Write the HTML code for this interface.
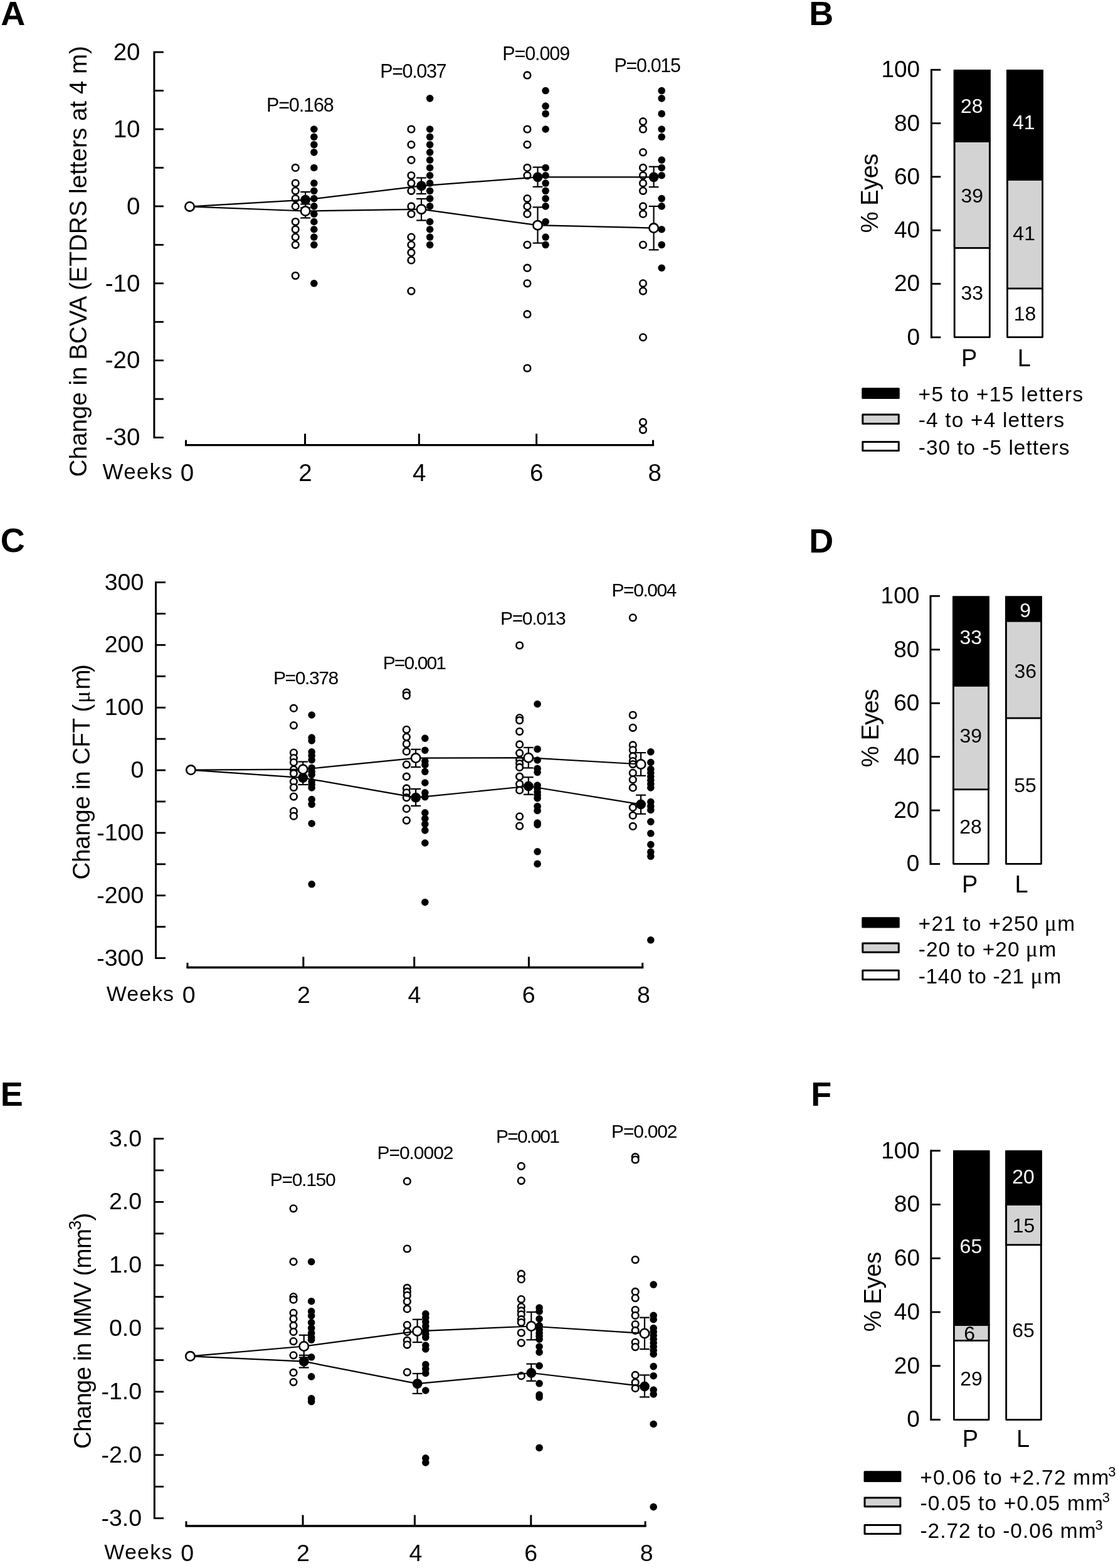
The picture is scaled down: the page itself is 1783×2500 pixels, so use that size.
<!DOCTYPE html>
<html lang="en"><head><meta charset="utf-8"><title>Figure</title>
<style>
html,body{margin:0;padding:0;background:#fff;}
svg{display:block;}
text{fill:#000;white-space:pre;}
.r{font-family:"Liberation Sans",sans-serif;}
.b{font-family:"Liberation Sans",sans-serif;font-weight:bold;}
.s{font-family:"Liberation Serif","DejaVu Serif",serif;}
</style></head><body>
<svg width="1783" height="2500" viewBox="0 0 1783 2500">
<rect width="1783" height="2500" fill="#fff"/>
<text class="b" x="1.35" y="40.20" style="font-size:54px;">A</text>
<text class="b" x="1290.26" y="40.30" style="font-size:54px;">B</text>
<text class="b" x="0.84" y="880.00" style="font-size:54px;">C</text>
<text class="b" x="1290.26" y="881.10" style="font-size:54px;">D</text>
<text class="b" x="0.75" y="1763.30" style="font-size:54px;">E</text>
<text class="b" x="1293.36" y="1763.40" style="font-size:54px;">F</text>
<circle cx="471.20" cy="267.45" r="5.3" fill="#fff" stroke="#000" stroke-width="2.6"/>
<circle cx="471.20" cy="292.03" r="5.3" fill="#fff" stroke="#000" stroke-width="2.6"/>
<circle cx="471.20" cy="304.32" r="5.3" fill="#fff" stroke="#000" stroke-width="2.6"/>
<circle cx="471.20" cy="316.61" r="5.3" fill="#fff" stroke="#000" stroke-width="2.6"/>
<circle cx="471.20" cy="328.90" r="5.3" fill="#fff" stroke="#000" stroke-width="2.6"/>
<circle cx="471.20" cy="353.48" r="5.3" fill="#fff" stroke="#000" stroke-width="2.6"/>
<circle cx="471.20" cy="365.77" r="5.3" fill="#fff" stroke="#000" stroke-width="2.6"/>
<circle cx="471.20" cy="378.06" r="5.3" fill="#fff" stroke="#000" stroke-width="2.6"/>
<circle cx="471.20" cy="390.35" r="5.3" fill="#fff" stroke="#000" stroke-width="2.6"/>
<circle cx="471.20" cy="439.51" r="5.3" fill="#fff" stroke="#000" stroke-width="2.6"/>
<circle cx="655.90" cy="206.00" r="5.3" fill="#fff" stroke="#000" stroke-width="2.6"/>
<circle cx="655.90" cy="230.58" r="5.3" fill="#fff" stroke="#000" stroke-width="2.6"/>
<circle cx="655.90" cy="255.16" r="5.3" fill="#fff" stroke="#000" stroke-width="2.6"/>
<circle cx="655.90" cy="279.74" r="5.3" fill="#fff" stroke="#000" stroke-width="2.6"/>
<circle cx="655.90" cy="292.03" r="5.3" fill="#fff" stroke="#000" stroke-width="2.6"/>
<circle cx="655.90" cy="304.32" r="5.3" fill="#fff" stroke="#000" stroke-width="2.6"/>
<circle cx="655.90" cy="328.90" r="5.3" fill="#fff" stroke="#000" stroke-width="2.6"/>
<circle cx="655.90" cy="341.19" r="5.3" fill="#fff" stroke="#000" stroke-width="2.6"/>
<circle cx="655.90" cy="378.06" r="5.3" fill="#fff" stroke="#000" stroke-width="2.6"/>
<circle cx="655.90" cy="390.35" r="5.3" fill="#fff" stroke="#000" stroke-width="2.6"/>
<circle cx="655.90" cy="402.64" r="5.3" fill="#fff" stroke="#000" stroke-width="2.6"/>
<circle cx="655.90" cy="414.93" r="5.3" fill="#fff" stroke="#000" stroke-width="2.6"/>
<circle cx="655.90" cy="464.09" r="5.3" fill="#fff" stroke="#000" stroke-width="2.6"/>
<circle cx="840.90" cy="119.97" r="5.3" fill="#fff" stroke="#000" stroke-width="2.6"/>
<circle cx="840.90" cy="206.00" r="5.3" fill="#fff" stroke="#000" stroke-width="2.6"/>
<circle cx="840.90" cy="230.58" r="5.3" fill="#fff" stroke="#000" stroke-width="2.6"/>
<circle cx="840.90" cy="267.45" r="5.3" fill="#fff" stroke="#000" stroke-width="2.6"/>
<circle cx="840.90" cy="279.74" r="5.3" fill="#fff" stroke="#000" stroke-width="2.6"/>
<circle cx="840.90" cy="316.61" r="5.3" fill="#fff" stroke="#000" stroke-width="2.6"/>
<circle cx="840.90" cy="328.90" r="5.3" fill="#fff" stroke="#000" stroke-width="2.6"/>
<circle cx="840.90" cy="341.19" r="5.3" fill="#fff" stroke="#000" stroke-width="2.6"/>
<circle cx="840.90" cy="390.35" r="5.3" fill="#fff" stroke="#000" stroke-width="2.6"/>
<circle cx="840.90" cy="427.22" r="5.3" fill="#fff" stroke="#000" stroke-width="2.6"/>
<circle cx="840.90" cy="451.80" r="5.3" fill="#fff" stroke="#000" stroke-width="2.6"/>
<circle cx="840.90" cy="500.96" r="5.3" fill="#fff" stroke="#000" stroke-width="2.6"/>
<circle cx="840.90" cy="586.99" r="5.3" fill="#fff" stroke="#000" stroke-width="2.6"/>
<circle cx="1025.50" cy="193.71" r="5.3" fill="#fff" stroke="#000" stroke-width="2.6"/>
<circle cx="1025.50" cy="206.00" r="5.3" fill="#fff" stroke="#000" stroke-width="2.6"/>
<circle cx="1025.50" cy="242.87" r="5.3" fill="#fff" stroke="#000" stroke-width="2.6"/>
<circle cx="1025.50" cy="267.45" r="5.3" fill="#fff" stroke="#000" stroke-width="2.6"/>
<circle cx="1025.50" cy="279.74" r="5.3" fill="#fff" stroke="#000" stroke-width="2.6"/>
<circle cx="1025.50" cy="292.03" r="5.3" fill="#fff" stroke="#000" stroke-width="2.6"/>
<circle cx="1025.50" cy="304.32" r="5.3" fill="#fff" stroke="#000" stroke-width="2.6"/>
<circle cx="1025.50" cy="328.90" r="5.3" fill="#fff" stroke="#000" stroke-width="2.6"/>
<circle cx="1025.50" cy="341.19" r="5.3" fill="#fff" stroke="#000" stroke-width="2.6"/>
<circle cx="1025.50" cy="390.35" r="5.3" fill="#fff" stroke="#000" stroke-width="2.6"/>
<circle cx="1025.50" cy="451.80" r="5.3" fill="#fff" stroke="#000" stroke-width="2.6"/>
<circle cx="1025.50" cy="464.09" r="5.3" fill="#fff" stroke="#000" stroke-width="2.6"/>
<circle cx="1025.50" cy="537.83" r="5.3" fill="#fff" stroke="#000" stroke-width="2.6"/>
<circle cx="1025.50" cy="673.02" r="5.3" fill="#fff" stroke="#000" stroke-width="2.6"/>
<circle cx="1025.50" cy="685.31" r="5.3" fill="#fff" stroke="#000" stroke-width="2.6"/>
<circle cx="500.80" cy="206.00" r="5.8" fill="#000"/>
<circle cx="500.80" cy="218.29" r="5.8" fill="#000"/>
<circle cx="500.80" cy="230.58" r="5.8" fill="#000"/>
<circle cx="500.80" cy="242.87" r="5.8" fill="#000"/>
<circle cx="500.80" cy="267.45" r="5.8" fill="#000"/>
<circle cx="500.80" cy="292.03" r="5.8" fill="#000"/>
<circle cx="500.80" cy="304.32" r="5.8" fill="#000"/>
<circle cx="500.80" cy="316.61" r="5.8" fill="#000"/>
<circle cx="500.80" cy="328.90" r="5.8" fill="#000"/>
<circle cx="500.80" cy="341.19" r="5.8" fill="#000"/>
<circle cx="500.80" cy="353.48" r="5.8" fill="#000"/>
<circle cx="500.80" cy="365.77" r="5.8" fill="#000"/>
<circle cx="500.80" cy="378.06" r="5.8" fill="#000"/>
<circle cx="500.80" cy="390.35" r="5.8" fill="#000"/>
<circle cx="500.80" cy="451.80" r="5.8" fill="#000"/>
<circle cx="685.60" cy="156.84" r="5.8" fill="#000"/>
<circle cx="685.60" cy="206.00" r="5.8" fill="#000"/>
<circle cx="685.60" cy="218.29" r="5.8" fill="#000"/>
<circle cx="685.60" cy="230.58" r="5.8" fill="#000"/>
<circle cx="685.60" cy="242.87" r="5.8" fill="#000"/>
<circle cx="685.60" cy="255.16" r="5.8" fill="#000"/>
<circle cx="685.60" cy="267.45" r="5.8" fill="#000"/>
<circle cx="685.60" cy="279.74" r="5.8" fill="#000"/>
<circle cx="685.60" cy="292.03" r="5.8" fill="#000"/>
<circle cx="685.60" cy="304.32" r="5.8" fill="#000"/>
<circle cx="685.60" cy="316.61" r="5.8" fill="#000"/>
<circle cx="685.60" cy="328.90" r="5.8" fill="#000"/>
<circle cx="685.60" cy="353.48" r="5.8" fill="#000"/>
<circle cx="685.60" cy="365.77" r="5.8" fill="#000"/>
<circle cx="685.60" cy="378.06" r="5.8" fill="#000"/>
<circle cx="685.60" cy="390.35" r="5.8" fill="#000"/>
<circle cx="870.10" cy="144.55" r="5.8" fill="#000"/>
<circle cx="870.10" cy="169.13" r="5.8" fill="#000"/>
<circle cx="870.10" cy="181.42" r="5.8" fill="#000"/>
<circle cx="870.10" cy="206.00" r="5.8" fill="#000"/>
<circle cx="870.10" cy="267.45" r="5.8" fill="#000"/>
<circle cx="870.10" cy="279.74" r="5.8" fill="#000"/>
<circle cx="870.10" cy="292.03" r="5.8" fill="#000"/>
<circle cx="870.10" cy="304.32" r="5.8" fill="#000"/>
<circle cx="870.10" cy="316.61" r="5.8" fill="#000"/>
<circle cx="870.10" cy="328.90" r="5.8" fill="#000"/>
<circle cx="870.10" cy="353.48" r="5.8" fill="#000"/>
<circle cx="870.10" cy="378.06" r="5.8" fill="#000"/>
<circle cx="870.10" cy="390.35" r="5.8" fill="#000"/>
<circle cx="1055.20" cy="144.55" r="5.8" fill="#000"/>
<circle cx="1055.20" cy="156.84" r="5.8" fill="#000"/>
<circle cx="1055.20" cy="181.42" r="5.8" fill="#000"/>
<circle cx="1055.20" cy="206.00" r="5.8" fill="#000"/>
<circle cx="1055.20" cy="218.29" r="5.8" fill="#000"/>
<circle cx="1055.20" cy="255.16" r="5.8" fill="#000"/>
<circle cx="1055.20" cy="267.45" r="5.8" fill="#000"/>
<circle cx="1055.20" cy="279.74" r="5.8" fill="#000"/>
<circle cx="1055.20" cy="316.61" r="5.8" fill="#000"/>
<circle cx="1055.20" cy="328.90" r="5.8" fill="#000"/>
<circle cx="1055.20" cy="365.77" r="5.8" fill="#000"/>
<circle cx="1055.20" cy="390.35" r="5.8" fill="#000"/>
<circle cx="1055.20" cy="427.22" r="5.8" fill="#000"/>
<polyline fill="none" stroke="#000" stroke-width="2.2" points="302.50,329.40 487.10,336.52 672.00,333.69 857.50,359.13 1042.60,363.56"/>
<polyline fill="none" stroke="#000" stroke-width="2.2" points="302.50,329.40 487.10,318.70 672.00,296.45 857.50,282.32 1042.60,282.32"/>
<line x1="487.10" y1="306.04" x2="487.10" y2="331.36" stroke="#000" stroke-width="2.2"/>
<line x1="479.20" y1="306.04" x2="495.00" y2="306.04" stroke="#000" stroke-width="2.2"/>
<line x1="479.20" y1="331.36" x2="495.00" y2="331.36" stroke="#000" stroke-width="2.2"/>
<line x1="672.00" y1="283.55" x2="672.00" y2="308.99" stroke="#000" stroke-width="2.2"/>
<line x1="664.10" y1="283.55" x2="679.90" y2="283.55" stroke="#000" stroke-width="2.2"/>
<line x1="664.10" y1="308.99" x2="679.90" y2="308.99" stroke="#000" stroke-width="2.2"/>
<line x1="857.50" y1="266.59" x2="857.50" y2="297.81" stroke="#000" stroke-width="2.2"/>
<line x1="849.60" y1="266.59" x2="865.40" y2="266.59" stroke="#000" stroke-width="2.2"/>
<line x1="849.60" y1="297.81" x2="865.40" y2="297.81" stroke="#000" stroke-width="2.2"/>
<line x1="1042.60" y1="265.73" x2="1042.60" y2="298.17" stroke="#000" stroke-width="2.2"/>
<line x1="1034.70" y1="265.73" x2="1050.50" y2="265.73" stroke="#000" stroke-width="2.2"/>
<line x1="1034.70" y1="298.17" x2="1050.50" y2="298.17" stroke="#000" stroke-width="2.2"/>
<line x1="487.10" y1="325.46" x2="487.10" y2="347.46" stroke="#000" stroke-width="2.2"/>
<line x1="479.20" y1="325.46" x2="495.00" y2="325.46" stroke="#000" stroke-width="2.2"/>
<line x1="479.20" y1="347.46" x2="495.00" y2="347.46" stroke="#000" stroke-width="2.2"/>
<line x1="672.00" y1="316.98" x2="672.00" y2="351.39" stroke="#000" stroke-width="2.2"/>
<line x1="664.10" y1="316.98" x2="679.90" y2="316.98" stroke="#000" stroke-width="2.2"/>
<line x1="664.10" y1="351.39" x2="679.90" y2="351.39" stroke="#000" stroke-width="2.2"/>
<line x1="857.50" y1="330.37" x2="857.50" y2="387.52" stroke="#000" stroke-width="2.2"/>
<line x1="849.60" y1="330.37" x2="865.40" y2="330.37" stroke="#000" stroke-width="2.2"/>
<line x1="849.60" y1="387.52" x2="865.40" y2="387.52" stroke="#000" stroke-width="2.2"/>
<line x1="1042.60" y1="328.90" x2="1042.60" y2="398.34" stroke="#000" stroke-width="2.2"/>
<line x1="1034.70" y1="328.90" x2="1050.50" y2="328.90" stroke="#000" stroke-width="2.2"/>
<line x1="1034.70" y1="398.34" x2="1050.50" y2="398.34" stroke="#000" stroke-width="2.2"/>
<circle cx="487.10" cy="318.70" r="7.9" fill="#000"/>
<circle cx="672.00" cy="296.45" r="7.9" fill="#000"/>
<circle cx="857.50" cy="282.32" r="7.9" fill="#000"/>
<circle cx="1042.60" cy="282.32" r="7.9" fill="#000"/>
<circle cx="487.10" cy="336.52" r="7.2" fill="#fff" stroke="#000" stroke-width="2.6"/>
<circle cx="672.00" cy="333.69" r="7.2" fill="#fff" stroke="#000" stroke-width="2.6"/>
<circle cx="857.50" cy="359.13" r="7.2" fill="#fff" stroke="#000" stroke-width="2.6"/>
<circle cx="1042.60" cy="363.56" r="7.2" fill="#fff" stroke="#000" stroke-width="2.6"/>
<circle cx="302.50" cy="329.40" r="7.2" fill="#fff" stroke="#000" stroke-width="2.6"/>
<line x1="245.90" y1="81.70" x2="245.90" y2="699.00" stroke="#000" stroke-width="3.0"/>
<line x1="245.90" y1="83.10" x2="260.90" y2="83.10" stroke="#000" stroke-width="2.8"/>
<line x1="245.90" y1="144.55" x2="260.90" y2="144.55" stroke="#000" stroke-width="2.8"/>
<line x1="245.90" y1="206.00" x2="260.90" y2="206.00" stroke="#000" stroke-width="2.8"/>
<line x1="245.90" y1="267.45" x2="260.90" y2="267.45" stroke="#000" stroke-width="2.8"/>
<line x1="245.90" y1="328.90" x2="260.90" y2="328.90" stroke="#000" stroke-width="2.8"/>
<line x1="245.90" y1="390.35" x2="260.90" y2="390.35" stroke="#000" stroke-width="2.8"/>
<line x1="245.90" y1="451.80" x2="260.90" y2="451.80" stroke="#000" stroke-width="2.8"/>
<line x1="245.90" y1="513.25" x2="260.90" y2="513.25" stroke="#000" stroke-width="2.8"/>
<line x1="245.90" y1="574.70" x2="260.90" y2="574.70" stroke="#000" stroke-width="2.8"/>
<line x1="245.90" y1="636.15" x2="260.90" y2="636.15" stroke="#000" stroke-width="2.8"/>
<line x1="245.90" y1="697.60" x2="260.90" y2="697.60" stroke="#000" stroke-width="2.8"/>
<text class="r" x="180.71" y="95.80" style="font-size:38.5px;">20</text>
<text class="r" x="180.71" y="218.70" style="font-size:38.5px;">10</text>
<text class="r" x="202.08" y="341.60" style="font-size:38.5px;">0</text>
<text class="r" x="167.81" y="464.50" style="font-size:38.5px;">-10</text>
<text class="r" x="167.81" y="587.40" style="font-size:38.5px;">-20</text>
<text class="r" x="167.81" y="710.30" style="font-size:38.5px;">-30</text>
<line x1="294.90" y1="709.70" x2="1043.10" y2="709.70" stroke="#000" stroke-width="3.3"/>
<line x1="296.50" y1="709.70" x2="296.50" y2="701.60" stroke="#000" stroke-width="3.0"/>
<line x1="1041.50" y1="709.70" x2="1041.50" y2="701.60" stroke="#000" stroke-width="3.0"/>
<line x1="486.50" y1="709.70" x2="486.50" y2="691.50" stroke="#000" stroke-width="3.0"/>
<line x1="668.30" y1="709.70" x2="668.30" y2="691.50" stroke="#000" stroke-width="3.0"/>
<line x1="855.60" y1="709.70" x2="855.60" y2="691.50" stroke="#000" stroke-width="3.0"/>
<text class="r" x="287.87" y="766.80" style="font-size:38.5px;">0</text>
<text class="r" x="476.22" y="766.80" style="font-size:38.5px;">2</text>
<text class="r" x="658.11" y="766.80" style="font-size:38.5px;">4</text>
<text class="r" x="844.97" y="766.80" style="font-size:38.5px;">6</text>
<text class="r" x="1033.42" y="766.80" style="font-size:38.5px;">8</text>
<text class="r" x="163.62" y="764.30" style="font-size:35px;letter-spacing:1.172px;">Weeks</text>
<text class="r" x="424.88" y="177.60" style="font-size:30.5px;letter-spacing:-1.090px;">P=0.168</text>
<text class="r" x="606.18" y="123.60" style="font-size:30.5px;letter-spacing:-1.352px;">P=0.037</text>
<text class="r" x="801.28" y="95.90" style="font-size:30.5px;letter-spacing:-1.094px;">P=0.009</text>
<text class="r" x="979.48" y="115.40" style="font-size:30.5px;letter-spacing:-1.336px;">P=0.015</text>
<text class="r" transform="translate(138.40,760.32) rotate(-90)" style="font-size:38.5px;letter-spacing:0.030px;">Change in BCVA (ETDRS letters at 4 m)</text>
<circle cx="468.40" cy="1129.20" r="5.3" fill="#fff" stroke="#000" stroke-width="2.6"/>
<circle cx="468.40" cy="1156.60" r="5.3" fill="#fff" stroke="#000" stroke-width="2.6"/>
<circle cx="468.40" cy="1200.10" r="5.3" fill="#fff" stroke="#000" stroke-width="2.6"/>
<circle cx="468.40" cy="1208.60" r="5.3" fill="#fff" stroke="#000" stroke-width="2.6"/>
<circle cx="468.40" cy="1215.50" r="5.3" fill="#fff" stroke="#000" stroke-width="2.6"/>
<circle cx="468.40" cy="1227.00" r="5.3" fill="#fff" stroke="#000" stroke-width="2.6"/>
<circle cx="468.40" cy="1233.30" r="5.3" fill="#fff" stroke="#000" stroke-width="2.6"/>
<circle cx="468.40" cy="1246.10" r="5.3" fill="#fff" stroke="#000" stroke-width="2.6"/>
<circle cx="468.40" cy="1255.50" r="5.3" fill="#fff" stroke="#000" stroke-width="2.6"/>
<circle cx="468.40" cy="1270.10" r="5.3" fill="#fff" stroke="#000" stroke-width="2.6"/>
<circle cx="468.40" cy="1293.30" r="5.3" fill="#fff" stroke="#000" stroke-width="2.6"/>
<circle cx="468.40" cy="1301.20" r="5.3" fill="#fff" stroke="#000" stroke-width="2.6"/>
<circle cx="648.30" cy="1104.20" r="5.3" fill="#fff" stroke="#000" stroke-width="2.6"/>
<circle cx="648.30" cy="1109.10" r="5.3" fill="#fff" stroke="#000" stroke-width="2.6"/>
<circle cx="648.30" cy="1163.30" r="5.3" fill="#fff" stroke="#000" stroke-width="2.6"/>
<circle cx="648.30" cy="1175.10" r="5.3" fill="#fff" stroke="#000" stroke-width="2.6"/>
<circle cx="648.30" cy="1186.00" r="5.3" fill="#fff" stroke="#000" stroke-width="2.6"/>
<circle cx="648.30" cy="1198.20" r="5.3" fill="#fff" stroke="#000" stroke-width="2.6"/>
<circle cx="648.30" cy="1219.10" r="5.3" fill="#fff" stroke="#000" stroke-width="2.6"/>
<circle cx="648.30" cy="1238.20" r="5.3" fill="#fff" stroke="#000" stroke-width="2.6"/>
<circle cx="648.30" cy="1256.90" r="5.3" fill="#fff" stroke="#000" stroke-width="2.6"/>
<circle cx="648.30" cy="1263.80" r="5.3" fill="#fff" stroke="#000" stroke-width="2.6"/>
<circle cx="648.30" cy="1271.70" r="5.3" fill="#fff" stroke="#000" stroke-width="2.6"/>
<circle cx="648.30" cy="1289.40" r="5.3" fill="#fff" stroke="#000" stroke-width="2.6"/>
<circle cx="648.30" cy="1308.10" r="5.3" fill="#fff" stroke="#000" stroke-width="2.6"/>
<circle cx="828.60" cy="1029.00" r="5.3" fill="#fff" stroke="#000" stroke-width="2.6"/>
<circle cx="828.60" cy="1144.60" r="5.3" fill="#fff" stroke="#000" stroke-width="2.6"/>
<circle cx="828.60" cy="1148.50" r="5.3" fill="#fff" stroke="#000" stroke-width="2.6"/>
<circle cx="828.60" cy="1166.30" r="5.3" fill="#fff" stroke="#000" stroke-width="2.6"/>
<circle cx="828.60" cy="1186.90" r="5.3" fill="#fff" stroke="#000" stroke-width="2.6"/>
<circle cx="828.60" cy="1200.70" r="5.3" fill="#fff" stroke="#000" stroke-width="2.6"/>
<circle cx="828.60" cy="1211.60" r="5.3" fill="#fff" stroke="#000" stroke-width="2.6"/>
<circle cx="828.60" cy="1217.50" r="5.3" fill="#fff" stroke="#000" stroke-width="2.6"/>
<circle cx="828.60" cy="1223.40" r="5.3" fill="#fff" stroke="#000" stroke-width="2.6"/>
<circle cx="828.60" cy="1238.20" r="5.3" fill="#fff" stroke="#000" stroke-width="2.6"/>
<circle cx="828.60" cy="1250.00" r="5.3" fill="#fff" stroke="#000" stroke-width="2.6"/>
<circle cx="828.60" cy="1259.90" r="5.3" fill="#fff" stroke="#000" stroke-width="2.6"/>
<circle cx="828.60" cy="1301.80" r="5.3" fill="#fff" stroke="#000" stroke-width="2.6"/>
<circle cx="828.60" cy="1317.00" r="5.3" fill="#fff" stroke="#000" stroke-width="2.6"/>
<circle cx="1009.30" cy="984.80" r="5.3" fill="#fff" stroke="#000" stroke-width="2.6"/>
<circle cx="1009.30" cy="1140.00" r="5.3" fill="#fff" stroke="#000" stroke-width="2.6"/>
<circle cx="1009.30" cy="1160.30" r="5.3" fill="#fff" stroke="#000" stroke-width="2.6"/>
<circle cx="1009.30" cy="1187.90" r="5.3" fill="#fff" stroke="#000" stroke-width="2.6"/>
<circle cx="1009.30" cy="1195.80" r="5.3" fill="#fff" stroke="#000" stroke-width="2.6"/>
<circle cx="1009.30" cy="1205.70" r="5.3" fill="#fff" stroke="#000" stroke-width="2.6"/>
<circle cx="1009.30" cy="1213.50" r="5.3" fill="#fff" stroke="#000" stroke-width="2.6"/>
<circle cx="1009.30" cy="1218.50" r="5.3" fill="#fff" stroke="#000" stroke-width="2.6"/>
<circle cx="1009.30" cy="1232.30" r="5.3" fill="#fff" stroke="#000" stroke-width="2.6"/>
<circle cx="1009.30" cy="1243.10" r="5.3" fill="#fff" stroke="#000" stroke-width="2.6"/>
<circle cx="1009.30" cy="1255.90" r="5.3" fill="#fff" stroke="#000" stroke-width="2.6"/>
<circle cx="1009.30" cy="1287.40" r="5.3" fill="#fff" stroke="#000" stroke-width="2.6"/>
<circle cx="1009.30" cy="1300.20" r="5.3" fill="#fff" stroke="#000" stroke-width="2.6"/>
<circle cx="1009.30" cy="1317.40" r="5.3" fill="#fff" stroke="#000" stroke-width="2.6"/>
<circle cx="497.10" cy="1140.00" r="5.8" fill="#000"/>
<circle cx="497.10" cy="1176.10" r="5.8" fill="#000"/>
<circle cx="497.10" cy="1181.00" r="5.8" fill="#000"/>
<circle cx="497.10" cy="1198.80" r="5.8" fill="#000"/>
<circle cx="497.10" cy="1204.70" r="5.8" fill="#000"/>
<circle cx="497.10" cy="1211.60" r="5.8" fill="#000"/>
<circle cx="497.10" cy="1224.40" r="5.8" fill="#000"/>
<circle cx="497.10" cy="1230.30" r="5.8" fill="#000"/>
<circle cx="497.10" cy="1235.20" r="5.8" fill="#000"/>
<circle cx="497.10" cy="1246.00" r="5.8" fill="#000"/>
<circle cx="497.10" cy="1251.00" r="5.8" fill="#000"/>
<circle cx="497.10" cy="1255.90" r="5.8" fill="#000"/>
<circle cx="497.10" cy="1274.60" r="5.8" fill="#000"/>
<circle cx="497.10" cy="1282.50" r="5.8" fill="#000"/>
<circle cx="497.10" cy="1313.00" r="5.8" fill="#000"/>
<circle cx="497.10" cy="1409.80" r="5.8" fill="#000"/>
<circle cx="677.80" cy="1177.10" r="5.8" fill="#000"/>
<circle cx="677.80" cy="1196.20" r="5.8" fill="#000"/>
<circle cx="677.80" cy="1213.50" r="5.8" fill="#000"/>
<circle cx="677.80" cy="1219.50" r="5.8" fill="#000"/>
<circle cx="677.80" cy="1230.30" r="5.8" fill="#000"/>
<circle cx="677.80" cy="1248.00" r="5.8" fill="#000"/>
<circle cx="677.80" cy="1263.80" r="5.8" fill="#000"/>
<circle cx="677.80" cy="1270.70" r="5.8" fill="#000"/>
<circle cx="677.80" cy="1295.90" r="5.8" fill="#000"/>
<circle cx="677.80" cy="1305.20" r="5.8" fill="#000"/>
<circle cx="677.80" cy="1314.00" r="5.8" fill="#000"/>
<circle cx="677.80" cy="1323.90" r="5.8" fill="#000"/>
<circle cx="677.80" cy="1344.00" r="5.8" fill="#000"/>
<circle cx="677.80" cy="1438.50" r="5.8" fill="#000"/>
<circle cx="857.10" cy="1122.50" r="5.8" fill="#000"/>
<circle cx="857.10" cy="1194.40" r="5.8" fill="#000"/>
<circle cx="857.10" cy="1212.00" r="5.8" fill="#000"/>
<circle cx="857.10" cy="1225.40" r="5.8" fill="#000"/>
<circle cx="857.10" cy="1231.30" r="5.8" fill="#000"/>
<circle cx="857.10" cy="1252.00" r="5.8" fill="#000"/>
<circle cx="857.10" cy="1256.90" r="5.8" fill="#000"/>
<circle cx="857.10" cy="1262.80" r="5.8" fill="#000"/>
<circle cx="857.10" cy="1267.70" r="5.8" fill="#000"/>
<circle cx="857.10" cy="1272.70" r="5.8" fill="#000"/>
<circle cx="857.10" cy="1285.50" r="5.8" fill="#000"/>
<circle cx="857.10" cy="1292.40" r="5.8" fill="#000"/>
<circle cx="857.10" cy="1312.10" r="5.8" fill="#000"/>
<circle cx="857.10" cy="1315.00" r="5.8" fill="#000"/>
<circle cx="857.10" cy="1357.80" r="5.8" fill="#000"/>
<circle cx="857.10" cy="1377.40" r="5.8" fill="#000"/>
<circle cx="1037.80" cy="1198.80" r="5.8" fill="#000"/>
<circle cx="1037.80" cy="1215.50" r="5.8" fill="#000"/>
<circle cx="1037.80" cy="1226.40" r="5.8" fill="#000"/>
<circle cx="1037.80" cy="1232.30" r="5.8" fill="#000"/>
<circle cx="1037.80" cy="1238.20" r="5.8" fill="#000"/>
<circle cx="1037.80" cy="1244.10" r="5.8" fill="#000"/>
<circle cx="1037.80" cy="1250.00" r="5.8" fill="#000"/>
<circle cx="1037.80" cy="1255.90" r="5.8" fill="#000"/>
<circle cx="1037.80" cy="1278.60" r="5.8" fill="#000"/>
<circle cx="1037.80" cy="1285.50" r="5.8" fill="#000"/>
<circle cx="1037.80" cy="1291.40" r="5.8" fill="#000"/>
<circle cx="1037.80" cy="1310.10" r="5.8" fill="#000"/>
<circle cx="1037.80" cy="1328.80" r="5.8" fill="#000"/>
<circle cx="1037.80" cy="1346.60" r="5.8" fill="#000"/>
<circle cx="1037.80" cy="1358.40" r="5.8" fill="#000"/>
<circle cx="1037.80" cy="1365.30" r="5.8" fill="#000"/>
<circle cx="1037.80" cy="1498.80" r="5.8" fill="#000"/>
<polyline fill="none" stroke="#000" stroke-width="2.2" points="304.40,1227.60 483.20,1226.70 663.10,1208.60 842.80,1208.20 1022.10,1218.50"/>
<polyline fill="none" stroke="#000" stroke-width="2.2" points="304.40,1227.60 483.20,1240.10 663.10,1271.70 842.80,1253.50 1022.10,1282.50"/>
<line x1="483.20" y1="1229.20" x2="483.20" y2="1251.00" stroke="#000" stroke-width="2.2"/>
<line x1="475.30" y1="1229.20" x2="491.10" y2="1229.20" stroke="#000" stroke-width="2.2"/>
<line x1="475.30" y1="1251.00" x2="491.10" y2="1251.00" stroke="#000" stroke-width="2.2"/>
<line x1="663.10" y1="1257.90" x2="663.10" y2="1284.90" stroke="#000" stroke-width="2.2"/>
<line x1="655.20" y1="1257.90" x2="671.00" y2="1257.90" stroke="#000" stroke-width="2.2"/>
<line x1="655.20" y1="1284.90" x2="671.00" y2="1284.90" stroke="#000" stroke-width="2.2"/>
<line x1="842.80" y1="1239.20" x2="842.80" y2="1266.70" stroke="#000" stroke-width="2.2"/>
<line x1="834.90" y1="1239.20" x2="850.70" y2="1239.20" stroke="#000" stroke-width="2.2"/>
<line x1="834.90" y1="1266.70" x2="850.70" y2="1266.70" stroke="#000" stroke-width="2.2"/>
<line x1="1022.10" y1="1267.70" x2="1022.10" y2="1297.70" stroke="#000" stroke-width="2.2"/>
<line x1="1014.20" y1="1267.70" x2="1030.00" y2="1267.70" stroke="#000" stroke-width="2.2"/>
<line x1="1014.20" y1="1297.70" x2="1030.00" y2="1297.70" stroke="#000" stroke-width="2.2"/>
<line x1="483.20" y1="1214.50" x2="483.20" y2="1238.90" stroke="#000" stroke-width="2.2"/>
<line x1="475.30" y1="1214.50" x2="491.10" y2="1214.50" stroke="#000" stroke-width="2.2"/>
<line x1="475.30" y1="1238.90" x2="491.10" y2="1238.90" stroke="#000" stroke-width="2.2"/>
<line x1="663.10" y1="1194.80" x2="663.10" y2="1223.00" stroke="#000" stroke-width="2.2"/>
<line x1="655.20" y1="1194.80" x2="671.00" y2="1194.80" stroke="#000" stroke-width="2.2"/>
<line x1="655.20" y1="1223.00" x2="671.00" y2="1223.00" stroke="#000" stroke-width="2.2"/>
<line x1="842.80" y1="1191.90" x2="842.80" y2="1224.40" stroke="#000" stroke-width="2.2"/>
<line x1="834.90" y1="1191.90" x2="850.70" y2="1191.90" stroke="#000" stroke-width="2.2"/>
<line x1="834.90" y1="1224.40" x2="850.70" y2="1224.40" stroke="#000" stroke-width="2.2"/>
<line x1="1022.10" y1="1200.10" x2="1022.10" y2="1236.80" stroke="#000" stroke-width="2.2"/>
<line x1="1014.20" y1="1200.10" x2="1030.00" y2="1200.10" stroke="#000" stroke-width="2.2"/>
<line x1="1014.20" y1="1236.80" x2="1030.00" y2="1236.80" stroke="#000" stroke-width="2.2"/>
<circle cx="483.20" cy="1240.10" r="7.9" fill="#000"/>
<circle cx="663.10" cy="1271.70" r="7.9" fill="#000"/>
<circle cx="842.80" cy="1253.50" r="7.9" fill="#000"/>
<circle cx="1022.10" cy="1282.50" r="7.9" fill="#000"/>
<circle cx="483.20" cy="1226.70" r="7.2" fill="#fff" stroke="#000" stroke-width="2.6"/>
<circle cx="663.10" cy="1208.60" r="7.2" fill="#fff" stroke="#000" stroke-width="2.6"/>
<circle cx="842.80" cy="1208.20" r="7.2" fill="#fff" stroke="#000" stroke-width="2.6"/>
<circle cx="1022.10" cy="1218.50" r="7.2" fill="#fff" stroke="#000" stroke-width="2.6"/>
<circle cx="304.40" cy="1227.60" r="7.2" fill="#fff" stroke="#000" stroke-width="2.6"/>
<line x1="248.50" y1="927.10" x2="248.50" y2="1529.00" stroke="#000" stroke-width="3.0"/>
<line x1="248.50" y1="928.50" x2="264.00" y2="928.50" stroke="#000" stroke-width="2.8"/>
<line x1="248.50" y1="978.42" x2="264.00" y2="978.42" stroke="#000" stroke-width="2.8"/>
<line x1="248.50" y1="1028.35" x2="264.00" y2="1028.35" stroke="#000" stroke-width="2.8"/>
<line x1="248.50" y1="1078.28" x2="264.00" y2="1078.28" stroke="#000" stroke-width="2.8"/>
<line x1="248.50" y1="1128.20" x2="264.00" y2="1128.20" stroke="#000" stroke-width="2.8"/>
<line x1="248.50" y1="1178.12" x2="264.00" y2="1178.12" stroke="#000" stroke-width="2.8"/>
<line x1="248.50" y1="1228.05" x2="264.00" y2="1228.05" stroke="#000" stroke-width="2.8"/>
<line x1="248.50" y1="1277.97" x2="264.00" y2="1277.97" stroke="#000" stroke-width="2.8"/>
<line x1="248.50" y1="1327.90" x2="264.00" y2="1327.90" stroke="#000" stroke-width="2.8"/>
<line x1="248.50" y1="1377.83" x2="264.00" y2="1377.83" stroke="#000" stroke-width="2.8"/>
<line x1="248.50" y1="1427.75" x2="264.00" y2="1427.75" stroke="#000" stroke-width="2.8"/>
<line x1="248.50" y1="1477.67" x2="264.00" y2="1477.67" stroke="#000" stroke-width="2.8"/>
<line x1="248.50" y1="1527.60" x2="264.00" y2="1527.60" stroke="#000" stroke-width="2.8"/>
<text class="r" x="166.68" y="940.50" style="font-size:37.5px;">300</text>
<text class="r" x="166.68" y="1040.35" style="font-size:37.5px;">200</text>
<text class="r" x="166.68" y="1140.20" style="font-size:37.5px;">100</text>
<text class="r" x="208.39" y="1240.05" style="font-size:37.5px;">0</text>
<text class="r" x="154.21" y="1339.90" style="font-size:37.5px;">-100</text>
<text class="r" x="154.21" y="1439.75" style="font-size:37.5px;">-200</text>
<text class="r" x="154.21" y="1539.60" style="font-size:37.5px;">-300</text>
<line x1="297.40" y1="1542.50" x2="1026.30" y2="1542.50" stroke="#000" stroke-width="3.3"/>
<line x1="299.00" y1="1542.50" x2="299.00" y2="1535.00" stroke="#000" stroke-width="3.0"/>
<line x1="1024.70" y1="1542.50" x2="1024.70" y2="1535.00" stroke="#000" stroke-width="3.0"/>
<line x1="483.80" y1="1542.50" x2="483.80" y2="1525.50" stroke="#000" stroke-width="3.0"/>
<line x1="660.70" y1="1542.50" x2="660.70" y2="1525.50" stroke="#000" stroke-width="3.0"/>
<line x1="843.40" y1="1542.50" x2="843.40" y2="1525.50" stroke="#000" stroke-width="3.0"/>
<text class="r" x="290.75" y="1598.50" style="font-size:37.5px;">0</text>
<text class="r" x="473.89" y="1598.50" style="font-size:37.5px;">2</text>
<text class="r" x="650.59" y="1598.50" style="font-size:37.5px;">4</text>
<text class="r" x="832.85" y="1598.50" style="font-size:37.5px;">6</text>
<text class="r" x="1016.09" y="1598.50" style="font-size:37.5px;">8</text>
<text class="r" x="169.83" y="1596.00" style="font-size:34px;letter-spacing:0.996px;">Weeks</text>
<text class="r" x="435.92" y="1091.00" style="font-size:30px;letter-spacing:-1.388px;">P=0.378</text>
<text class="r" x="610.73" y="1067.30" style="font-size:30px;letter-spacing:-1.879px;">P=0.001</text>
<text class="r" x="797.92" y="996.40" style="font-size:30px;letter-spacing:-1.287px;">P=0.013</text>
<text class="r" x="975.52" y="950.90" style="font-size:30px;letter-spacing:-1.429px;">P=0.004</text>
<text class="r" transform="translate(142.90,1402.62) rotate(-90)" style="font-size:38.5px;letter-spacing:-0.281px;">Change in CFT (</text>
<text class="s" transform="translate(142.90,1120.88) rotate(-90)" style="font-size:36px;">μ</text>
<text class="r" transform="translate(142.90,1099.60) rotate(-90)" style="font-size:38.5px;letter-spacing:-4.347px;">m)</text>
<circle cx="468.00" cy="1926.80" r="5.3" fill="#fff" stroke="#000" stroke-width="2.6"/>
<circle cx="468.00" cy="2011.70" r="5.3" fill="#fff" stroke="#000" stroke-width="2.6"/>
<circle cx="468.00" cy="2067.60" r="5.3" fill="#fff" stroke="#000" stroke-width="2.6"/>
<circle cx="468.00" cy="2072.20" r="5.3" fill="#fff" stroke="#000" stroke-width="2.6"/>
<circle cx="468.00" cy="2093.30" r="5.3" fill="#fff" stroke="#000" stroke-width="2.6"/>
<circle cx="468.00" cy="2102.70" r="5.3" fill="#fff" stroke="#000" stroke-width="2.6"/>
<circle cx="468.00" cy="2113.50" r="5.3" fill="#fff" stroke="#000" stroke-width="2.6"/>
<circle cx="468.00" cy="2123.40" r="5.3" fill="#fff" stroke="#000" stroke-width="2.6"/>
<circle cx="468.00" cy="2138.60" r="5.3" fill="#fff" stroke="#000" stroke-width="2.6"/>
<circle cx="468.00" cy="2160.80" r="5.3" fill="#fff" stroke="#000" stroke-width="2.6"/>
<circle cx="468.00" cy="2188.40" r="5.3" fill="#fff" stroke="#000" stroke-width="2.6"/>
<circle cx="468.00" cy="2203.60" r="5.3" fill="#fff" stroke="#000" stroke-width="2.6"/>
<circle cx="649.30" cy="1883.40" r="5.3" fill="#fff" stroke="#000" stroke-width="2.6"/>
<circle cx="649.30" cy="1991.00" r="5.3" fill="#fff" stroke="#000" stroke-width="2.6"/>
<circle cx="649.30" cy="2053.40" r="5.3" fill="#fff" stroke="#000" stroke-width="2.6"/>
<circle cx="649.30" cy="2059.40" r="5.3" fill="#fff" stroke="#000" stroke-width="2.6"/>
<circle cx="649.30" cy="2065.30" r="5.3" fill="#fff" stroke="#000" stroke-width="2.6"/>
<circle cx="649.30" cy="2075.10" r="5.3" fill="#fff" stroke="#000" stroke-width="2.6"/>
<circle cx="649.30" cy="2086.90" r="5.3" fill="#fff" stroke="#000" stroke-width="2.6"/>
<circle cx="649.30" cy="2112.60" r="5.3" fill="#fff" stroke="#000" stroke-width="2.6"/>
<circle cx="649.30" cy="2123.40" r="5.3" fill="#fff" stroke="#000" stroke-width="2.6"/>
<circle cx="649.30" cy="2137.20" r="5.3" fill="#fff" stroke="#000" stroke-width="2.6"/>
<circle cx="649.30" cy="2144.10" r="5.3" fill="#fff" stroke="#000" stroke-width="2.6"/>
<circle cx="649.30" cy="2187.80" r="5.3" fill="#fff" stroke="#000" stroke-width="2.6"/>
<circle cx="831.30" cy="1859.30" r="5.3" fill="#fff" stroke="#000" stroke-width="2.6"/>
<circle cx="831.30" cy="1882.60" r="5.3" fill="#fff" stroke="#000" stroke-width="2.6"/>
<circle cx="831.30" cy="2031.20" r="5.3" fill="#fff" stroke="#000" stroke-width="2.6"/>
<circle cx="831.30" cy="2039.70" r="5.3" fill="#fff" stroke="#000" stroke-width="2.6"/>
<circle cx="831.30" cy="2071.60" r="5.3" fill="#fff" stroke="#000" stroke-width="2.6"/>
<circle cx="831.30" cy="2083.60" r="5.3" fill="#fff" stroke="#000" stroke-width="2.6"/>
<circle cx="831.30" cy="2089.90" r="5.3" fill="#fff" stroke="#000" stroke-width="2.6"/>
<circle cx="831.30" cy="2095.80" r="5.3" fill="#fff" stroke="#000" stroke-width="2.6"/>
<circle cx="831.30" cy="2103.70" r="5.3" fill="#fff" stroke="#000" stroke-width="2.6"/>
<circle cx="831.30" cy="2108.60" r="5.3" fill="#fff" stroke="#000" stroke-width="2.6"/>
<circle cx="831.30" cy="2125.00" r="5.3" fill="#fff" stroke="#000" stroke-width="2.6"/>
<circle cx="831.30" cy="2141.10" r="5.3" fill="#fff" stroke="#000" stroke-width="2.6"/>
<circle cx="831.30" cy="2193.70" r="5.3" fill="#fff" stroke="#000" stroke-width="2.6"/>
<circle cx="1013.20" cy="1844.70" r="5.3" fill="#fff" stroke="#000" stroke-width="2.6"/>
<circle cx="1013.20" cy="1849.00" r="5.3" fill="#fff" stroke="#000" stroke-width="2.6"/>
<circle cx="1013.20" cy="2008.50" r="5.3" fill="#fff" stroke="#000" stroke-width="2.6"/>
<circle cx="1013.20" cy="2059.40" r="5.3" fill="#fff" stroke="#000" stroke-width="2.6"/>
<circle cx="1013.20" cy="2069.60" r="5.3" fill="#fff" stroke="#000" stroke-width="2.6"/>
<circle cx="1013.20" cy="2088.50" r="5.3" fill="#fff" stroke="#000" stroke-width="2.6"/>
<circle cx="1013.20" cy="2097.40" r="5.3" fill="#fff" stroke="#000" stroke-width="2.6"/>
<circle cx="1013.20" cy="2111.60" r="5.3" fill="#fff" stroke="#000" stroke-width="2.6"/>
<circle cx="1013.20" cy="2121.40" r="5.3" fill="#fff" stroke="#000" stroke-width="2.6"/>
<circle cx="1013.20" cy="2140.10" r="5.3" fill="#fff" stroke="#000" stroke-width="2.6"/>
<circle cx="1013.20" cy="2147.60" r="5.3" fill="#fff" stroke="#000" stroke-width="2.6"/>
<circle cx="1013.20" cy="2192.40" r="5.3" fill="#fff" stroke="#000" stroke-width="2.6"/>
<circle cx="1013.20" cy="2204.20" r="5.3" fill="#fff" stroke="#000" stroke-width="2.6"/>
<circle cx="1013.20" cy="2213.40" r="5.3" fill="#fff" stroke="#000" stroke-width="2.6"/>
<circle cx="496.60" cy="2011.70" r="5.8" fill="#000"/>
<circle cx="496.60" cy="2074.70" r="5.8" fill="#000"/>
<circle cx="496.60" cy="2090.90" r="5.8" fill="#000"/>
<circle cx="496.60" cy="2097.80" r="5.8" fill="#000"/>
<circle cx="496.60" cy="2108.60" r="5.8" fill="#000"/>
<circle cx="496.60" cy="2117.50" r="5.8" fill="#000"/>
<circle cx="496.60" cy="2125.40" r="5.8" fill="#000"/>
<circle cx="496.60" cy="2132.30" r="5.8" fill="#000"/>
<circle cx="496.60" cy="2136.20" r="5.8" fill="#000"/>
<circle cx="496.60" cy="2163.80" r="5.8" fill="#000"/>
<circle cx="496.60" cy="2194.90" r="5.8" fill="#000"/>
<circle cx="496.60" cy="2229.80" r="5.8" fill="#000"/>
<circle cx="496.60" cy="2234.70" r="5.8" fill="#000"/>
<circle cx="678.80" cy="2094.80" r="5.8" fill="#000"/>
<circle cx="678.80" cy="2100.70" r="5.8" fill="#000"/>
<circle cx="678.80" cy="2107.60" r="5.8" fill="#000"/>
<circle cx="678.80" cy="2114.50" r="5.8" fill="#000"/>
<circle cx="678.80" cy="2121.40" r="5.8" fill="#000"/>
<circle cx="678.80" cy="2127.30" r="5.8" fill="#000"/>
<circle cx="678.80" cy="2132.30" r="5.8" fill="#000"/>
<circle cx="678.80" cy="2145.10" r="5.8" fill="#000"/>
<circle cx="678.80" cy="2151.00" r="5.8" fill="#000"/>
<circle cx="678.80" cy="2175.60" r="5.8" fill="#000"/>
<circle cx="678.80" cy="2182.50" r="5.8" fill="#000"/>
<circle cx="678.80" cy="2189.40" r="5.8" fill="#000"/>
<circle cx="678.80" cy="2217.00" r="5.8" fill="#000"/>
<circle cx="678.80" cy="2324.90" r="5.8" fill="#000"/>
<circle cx="678.80" cy="2332.00" r="5.8" fill="#000"/>
<circle cx="860.10" cy="2085.00" r="5.8" fill="#000"/>
<circle cx="860.10" cy="2090.90" r="5.8" fill="#000"/>
<circle cx="860.10" cy="2102.70" r="5.8" fill="#000"/>
<circle cx="860.10" cy="2113.50" r="5.8" fill="#000"/>
<circle cx="860.10" cy="2119.50" r="5.8" fill="#000"/>
<circle cx="860.10" cy="2125.40" r="5.8" fill="#000"/>
<circle cx="860.10" cy="2130.30" r="5.8" fill="#000"/>
<circle cx="860.10" cy="2135.20" r="5.8" fill="#000"/>
<circle cx="860.10" cy="2147.00" r="5.8" fill="#000"/>
<circle cx="860.10" cy="2155.90" r="5.8" fill="#000"/>
<circle cx="860.10" cy="2177.60" r="5.8" fill="#000"/>
<circle cx="860.10" cy="2205.80" r="5.8" fill="#000"/>
<circle cx="860.10" cy="2223.90" r="5.8" fill="#000"/>
<circle cx="860.10" cy="2227.80" r="5.8" fill="#000"/>
<circle cx="860.10" cy="2308.40" r="5.8" fill="#000"/>
<circle cx="1042.20" cy="2048.10" r="5.8" fill="#000"/>
<circle cx="1042.20" cy="2097.40" r="5.8" fill="#000"/>
<circle cx="1042.20" cy="2103.70" r="5.8" fill="#000"/>
<circle cx="1042.20" cy="2117.50" r="5.8" fill="#000"/>
<circle cx="1042.20" cy="2123.40" r="5.8" fill="#000"/>
<circle cx="1042.20" cy="2129.30" r="5.8" fill="#000"/>
<circle cx="1042.20" cy="2135.20" r="5.8" fill="#000"/>
<circle cx="1042.20" cy="2141.10" r="5.8" fill="#000"/>
<circle cx="1042.20" cy="2147.00" r="5.8" fill="#000"/>
<circle cx="1042.20" cy="2153.00" r="5.8" fill="#000"/>
<circle cx="1042.20" cy="2158.90" r="5.8" fill="#000"/>
<circle cx="1042.20" cy="2178.60" r="5.8" fill="#000"/>
<circle cx="1042.20" cy="2193.70" r="5.8" fill="#000"/>
<circle cx="1042.20" cy="2216.00" r="5.8" fill="#000"/>
<circle cx="1042.20" cy="2222.90" r="5.8" fill="#000"/>
<circle cx="1042.20" cy="2270.50" r="5.8" fill="#000"/>
<circle cx="1042.20" cy="2402.60" r="5.8" fill="#000"/>
<polyline fill="none" stroke="#000" stroke-width="2.2" points="303.40,2162.30 484.70,2146.50 665.60,2122.40 847.30,2114.50 1028.00,2126.00"/>
<polyline fill="none" stroke="#000" stroke-width="2.2" points="303.40,2162.30 484.70,2170.70 665.60,2206.20 847.30,2189.00 1028.00,2210.50"/>
<line x1="484.70" y1="2160.80" x2="484.70" y2="2180.50" stroke="#000" stroke-width="2.2"/>
<line x1="476.80" y1="2160.80" x2="492.60" y2="2160.80" stroke="#000" stroke-width="2.2"/>
<line x1="476.80" y1="2180.50" x2="492.60" y2="2180.50" stroke="#000" stroke-width="2.2"/>
<line x1="665.60" y1="2190.00" x2="665.60" y2="2221.90" stroke="#000" stroke-width="2.2"/>
<line x1="657.70" y1="2190.00" x2="673.50" y2="2190.00" stroke="#000" stroke-width="2.2"/>
<line x1="657.70" y1="2221.90" x2="673.50" y2="2221.90" stroke="#000" stroke-width="2.2"/>
<line x1="847.30" y1="2174.60" x2="847.30" y2="2201.80" stroke="#000" stroke-width="2.2"/>
<line x1="839.40" y1="2174.60" x2="855.20" y2="2174.60" stroke="#000" stroke-width="2.2"/>
<line x1="839.40" y1="2201.80" x2="855.20" y2="2201.80" stroke="#000" stroke-width="2.2"/>
<line x1="1028.00" y1="2192.40" x2="1028.00" y2="2227.40" stroke="#000" stroke-width="2.2"/>
<line x1="1020.10" y1="2192.40" x2="1035.90" y2="2192.40" stroke="#000" stroke-width="2.2"/>
<line x1="1020.10" y1="2227.40" x2="1035.90" y2="2227.40" stroke="#000" stroke-width="2.2"/>
<line x1="484.70" y1="2128.70" x2="484.70" y2="2164.30" stroke="#000" stroke-width="2.2"/>
<line x1="476.80" y1="2128.70" x2="492.60" y2="2128.70" stroke="#000" stroke-width="2.2"/>
<line x1="476.80" y1="2164.30" x2="492.60" y2="2164.30" stroke="#000" stroke-width="2.2"/>
<line x1="665.60" y1="2103.70" x2="665.60" y2="2140.10" stroke="#000" stroke-width="2.2"/>
<line x1="657.70" y1="2103.70" x2="673.50" y2="2103.70" stroke="#000" stroke-width="2.2"/>
<line x1="657.70" y1="2140.10" x2="673.50" y2="2140.10" stroke="#000" stroke-width="2.2"/>
<line x1="847.30" y1="2091.90" x2="847.30" y2="2136.20" stroke="#000" stroke-width="2.2"/>
<line x1="839.40" y1="2091.90" x2="855.20" y2="2091.90" stroke="#000" stroke-width="2.2"/>
<line x1="839.40" y1="2136.20" x2="855.20" y2="2136.20" stroke="#000" stroke-width="2.2"/>
<line x1="1028.00" y1="2100.70" x2="1028.00" y2="2151.00" stroke="#000" stroke-width="2.2"/>
<line x1="1020.10" y1="2100.70" x2="1035.90" y2="2100.70" stroke="#000" stroke-width="2.2"/>
<line x1="1020.10" y1="2151.00" x2="1035.90" y2="2151.00" stroke="#000" stroke-width="2.2"/>
<circle cx="484.70" cy="2170.70" r="7.9" fill="#000"/>
<circle cx="665.60" cy="2206.20" r="7.9" fill="#000"/>
<circle cx="847.30" cy="2189.00" r="7.9" fill="#000"/>
<circle cx="1028.00" cy="2210.50" r="7.9" fill="#000"/>
<circle cx="484.70" cy="2146.50" r="7.2" fill="#fff" stroke="#000" stroke-width="2.6"/>
<circle cx="665.60" cy="2122.40" r="7.2" fill="#fff" stroke="#000" stroke-width="2.6"/>
<circle cx="847.30" cy="2114.50" r="7.2" fill="#fff" stroke="#000" stroke-width="2.6"/>
<circle cx="1028.00" cy="2126.00" r="7.2" fill="#fff" stroke="#000" stroke-width="2.6"/>
<circle cx="303.40" cy="2162.30" r="7.2" fill="#fff" stroke="#000" stroke-width="2.6"/>
<line x1="246.30" y1="1814.10" x2="246.30" y2="2422.10" stroke="#000" stroke-width="3.0"/>
<line x1="246.30" y1="1815.50" x2="261.00" y2="1815.50" stroke="#000" stroke-width="2.8"/>
<line x1="246.30" y1="1865.93" x2="261.00" y2="1865.93" stroke="#000" stroke-width="2.8"/>
<line x1="246.30" y1="1916.37" x2="261.00" y2="1916.37" stroke="#000" stroke-width="2.8"/>
<line x1="246.30" y1="1966.80" x2="261.00" y2="1966.80" stroke="#000" stroke-width="2.8"/>
<line x1="246.30" y1="2017.23" x2="261.00" y2="2017.23" stroke="#000" stroke-width="2.8"/>
<line x1="246.30" y1="2067.66" x2="261.00" y2="2067.66" stroke="#000" stroke-width="2.8"/>
<line x1="246.30" y1="2118.10" x2="261.00" y2="2118.10" stroke="#000" stroke-width="2.8"/>
<line x1="246.30" y1="2168.53" x2="261.00" y2="2168.53" stroke="#000" stroke-width="2.8"/>
<line x1="246.30" y1="2218.96" x2="261.00" y2="2218.96" stroke="#000" stroke-width="2.8"/>
<line x1="246.30" y1="2269.40" x2="261.00" y2="2269.40" stroke="#000" stroke-width="2.8"/>
<line x1="246.30" y1="2319.83" x2="261.00" y2="2319.83" stroke="#000" stroke-width="2.8"/>
<line x1="246.30" y1="2370.26" x2="261.00" y2="2370.26" stroke="#000" stroke-width="2.8"/>
<line x1="246.30" y1="2420.70" x2="261.00" y2="2420.70" stroke="#000" stroke-width="2.8"/>
<text class="r" x="173.88" y="1827.50" style="font-size:37.5px;">3.0</text>
<text class="r" x="173.88" y="1928.37" style="font-size:37.5px;">2.0</text>
<text class="r" x="173.88" y="2029.23" style="font-size:37.5px;">1.0</text>
<text class="r" x="173.88" y="2130.10" style="font-size:37.5px;">0.0</text>
<text class="r" x="161.41" y="2230.97" style="font-size:37.5px;">-1.0</text>
<text class="r" x="161.41" y="2331.84" style="font-size:37.5px;">-2.0</text>
<text class="r" x="161.41" y="2432.70" style="font-size:37.5px;">-3.0</text>
<line x1="295.40" y1="2433.00" x2="1030.70" y2="2433.00" stroke="#000" stroke-width="3.3"/>
<line x1="297.00" y1="2433.00" x2="297.00" y2="2425.40" stroke="#000" stroke-width="3.0"/>
<line x1="1029.10" y1="2433.00" x2="1029.10" y2="2425.40" stroke="#000" stroke-width="3.0"/>
<line x1="483.00" y1="2433.00" x2="483.00" y2="2415.50" stroke="#000" stroke-width="3.0"/>
<line x1="661.40" y1="2433.00" x2="661.40" y2="2415.50" stroke="#000" stroke-width="3.0"/>
<line x1="846.80" y1="2433.00" x2="846.80" y2="2415.50" stroke="#000" stroke-width="3.0"/>
<text class="r" x="288.15" y="2488.70" style="font-size:37.5px;">0</text>
<text class="r" x="473.09" y="2488.70" style="font-size:37.5px;">2</text>
<text class="r" x="652.39" y="2488.70" style="font-size:37.5px;">4</text>
<text class="r" x="836.25" y="2488.70" style="font-size:37.5px;">6</text>
<text class="r" x="1020.79" y="2488.70" style="font-size:37.5px;">8</text>
<text class="r" x="166.13" y="2486.20" style="font-size:34px;letter-spacing:1.296px;">Weeks</text>
<text class="r" x="430.72" y="1890.80" style="font-size:30px;letter-spacing:-1.279px;">P=0.150</text>
<text class="r" x="601.42" y="1848.10" style="font-size:30px;letter-spacing:-1.021px;">P=0.0002</text>
<text class="r" x="791.02" y="1821.80" style="font-size:30px;letter-spacing:-1.796px;">P=0.001</text>
<text class="r" x="975.12" y="1813.60" style="font-size:30px;letter-spacing:-1.217px;">P=0.002</text>
<text class="r" transform="translate(144.50,2310.03) rotate(-90)" style="font-size:38.5px;letter-spacing:-0.794px;">Change in MMV (mm</text>
<text class="r" transform="translate(129.30,1961.35) rotate(-90)" style="font-size:28px;">3</text>
<text class="r" transform="translate(144.50,1946.59) rotate(-90)" style="font-size:38.5px;">)</text>
<rect x="1522.20" y="112.40" width="56.20" height="425.20" fill="#fff" stroke="#000" stroke-width="2.8" stroke-linejoin="round"/>
<rect x="1522.20" y="225.40" width="56.20" height="170.00" fill="#d3d3d3" stroke="#000" stroke-width="2.8"/>
<rect x="1520.80" y="111.00" width="59.00" height="115.80" fill="#000"/>
<rect x="1606.50" y="112.40" width="56.10" height="425.20" fill="#fff" stroke="#000" stroke-width="2.8" stroke-linejoin="round"/>
<rect x="1606.50" y="286.40" width="56.10" height="173.60" fill="#d3d3d3" stroke="#000" stroke-width="2.8"/>
<rect x="1605.10" y="111.00" width="58.90" height="176.80" fill="#000"/>
<line x1="1485.40" y1="109.90" x2="1485.40" y2="539.20" stroke="#000" stroke-width="3.0"/>
<line x1="1485.40" y1="537.80" x2="1500.30" y2="537.80" stroke="#000" stroke-width="2.8"/>
<text class="r" x="1446.55" y="549.70" style="font-size:37.0px;">0</text>
<line x1="1485.40" y1="452.50" x2="1500.30" y2="452.50" stroke="#000" stroke-width="2.8"/>
<text class="r" x="1426.02" y="464.40" style="font-size:37.0px;">20</text>
<line x1="1485.40" y1="367.20" x2="1500.30" y2="367.20" stroke="#000" stroke-width="2.8"/>
<text class="r" x="1426.02" y="379.10" style="font-size:37.0px;">40</text>
<line x1="1485.40" y1="281.90" x2="1500.30" y2="281.90" stroke="#000" stroke-width="2.8"/>
<text class="r" x="1426.02" y="293.80" style="font-size:37.0px;">60</text>
<line x1="1485.40" y1="196.60" x2="1500.30" y2="196.60" stroke="#000" stroke-width="2.8"/>
<text class="r" x="1426.02" y="208.50" style="font-size:37.0px;">80</text>
<line x1="1485.40" y1="111.30" x2="1500.30" y2="111.30" stroke="#000" stroke-width="2.8"/>
<text class="r" x="1405.39" y="123.20" style="font-size:37.0px;">100</text>
<text class="r" x="1531.92" y="179.50" style="font-size:32px;fill:#fff;">28</text>
<text class="r" x="1615.04" y="206.40" style="font-size:32px;fill:#fff;">41</text>
<text class="r" x="1532.46" y="323.00" style="font-size:32px;">39</text>
<text class="r" x="1615.34" y="382.90" style="font-size:32px;">41</text>
<text class="r" x="1532.42" y="478.00" style="font-size:32px;">33</text>
<text class="r" x="1616.72" y="510.70" style="font-size:32px;">18</text>
<text class="r" x="1532.95" y="583.90" style="font-size:38px;">P</text>
<text class="r" x="1622.71" y="583.90" style="font-size:38px;">L</text>
<text class="r" transform="translate(1400.40,371.33) rotate(-90)" style="font-size:38px;letter-spacing:-0.432px;">% Eyes</text>
<rect x="1375.80" y="619.80" width="57.50" height="14.70" fill="#000" stroke="#000" stroke-width="3" stroke-linejoin="round"/>
<rect x="1375.80" y="660.90" width="57.50" height="14.50" fill="#d3d3d3" stroke="#000" stroke-width="3" stroke-linejoin="round"/>
<rect x="1375.80" y="704.40" width="57.50" height="14.20" fill="#fff" stroke="#000" stroke-width="3" stroke-linejoin="round"/>
<text class="r" x="1464.62" y="640.40" style="font-size:33.5px;letter-spacing:1.277px;">+5 to +15 letters</text>
<text class="r" x="1464.79" y="681.30" style="font-size:33.5px;letter-spacing:1.154px;">-4 to +4 letters</text>
<text class="r" x="1464.79" y="724.50" style="font-size:33.5px;letter-spacing:0.962px;">-30 to -5 letters</text>
<rect x="1520.50" y="951.90" width="56.00" height="425.40" fill="#fff" stroke="#000" stroke-width="2.8" stroke-linejoin="round"/>
<rect x="1520.50" y="1093.10" width="56.00" height="165.60" fill="#d3d3d3" stroke="#000" stroke-width="2.8"/>
<rect x="1519.10" y="950.50" width="58.80" height="144.00" fill="#000"/>
<rect x="1604.50" y="951.90" width="56.10" height="425.40" fill="#fff" stroke="#000" stroke-width="2.8" stroke-linejoin="round"/>
<rect x="1604.50" y="990.00" width="56.10" height="155.00" fill="#d3d3d3" stroke="#000" stroke-width="2.8"/>
<rect x="1603.10" y="950.50" width="58.90" height="40.90" fill="#000"/>
<line x1="1484.00" y1="948.90" x2="1484.00" y2="1378.90" stroke="#000" stroke-width="3.0"/>
<line x1="1484.00" y1="1377.50" x2="1499.00" y2="1377.50" stroke="#000" stroke-width="2.8"/>
<text class="r" x="1445.75" y="1389.40" style="font-size:37.0px;">0</text>
<line x1="1484.00" y1="1292.06" x2="1499.00" y2="1292.06" stroke="#000" stroke-width="2.8"/>
<text class="r" x="1425.22" y="1303.96" style="font-size:37.0px;">20</text>
<line x1="1484.00" y1="1206.62" x2="1499.00" y2="1206.62" stroke="#000" stroke-width="2.8"/>
<text class="r" x="1425.22" y="1218.52" style="font-size:37.0px;">40</text>
<line x1="1484.00" y1="1121.18" x2="1499.00" y2="1121.18" stroke="#000" stroke-width="2.8"/>
<text class="r" x="1425.22" y="1133.08" style="font-size:37.0px;">60</text>
<line x1="1484.00" y1="1035.74" x2="1499.00" y2="1035.74" stroke="#000" stroke-width="2.8"/>
<text class="r" x="1425.22" y="1047.64" style="font-size:37.0px;">80</text>
<line x1="1484.00" y1="950.30" x2="1499.00" y2="950.30" stroke="#000" stroke-width="2.8"/>
<text class="r" x="1404.59" y="962.20" style="font-size:37.0px;">100</text>
<text class="r" x="1530.52" y="1026.90" style="font-size:32px;fill:#fff;">33</text>
<text class="r" x="1626.18" y="983.70" style="font-size:32px;fill:#fff;">9</text>
<text class="r" x="1617.52" y="1081.30" style="font-size:32px;">36</text>
<text class="r" x="1530.56" y="1184.10" style="font-size:32px;">39</text>
<text class="r" x="1617.24" y="1263.10" style="font-size:32px;">55</text>
<text class="r" x="1530.32" y="1328.50" style="font-size:32px;">28</text>
<text class="r" x="1533.95" y="1423.40" style="font-size:38px;">P</text>
<text class="r" x="1618.51" y="1423.40" style="font-size:38px;">L</text>
<text class="r" transform="translate(1400.80,1223.13) rotate(-90)" style="font-size:38px;letter-spacing:-0.772px;">% Eyes</text>
<rect x="1375.80" y="1463.70" width="57.50" height="14.20" fill="#000" stroke="#000" stroke-width="3" stroke-linejoin="round"/>
<rect x="1375.80" y="1504.10" width="57.50" height="14.20" fill="#d3d3d3" stroke="#000" stroke-width="3" stroke-linejoin="round"/>
<rect x="1375.80" y="1547.30" width="57.50" height="14.50" fill="#fff" stroke="#000" stroke-width="3" stroke-linejoin="round"/>
<text class="r" x="1464.62" y="1483.80" style="font-size:33.5px;letter-spacing:1.213px;">+21 to +250</text>
<text class="s" x="1665.72" y="1483.80" style="font-size:36px;">μ</text>
<text class="r" x="1686.34" y="1483.80" style="font-size:33.5px;">m</text>
<text class="r" x="1464.79" y="1525.00" style="font-size:33.5px;letter-spacing:1.001px;">-20 to +20</text>
<text class="s" x="1635.72" y="1525.00" style="font-size:36px;">μ</text>
<text class="r" x="1656.44" y="1525.00" style="font-size:33.5px;">m</text>
<text class="r" x="1464.79" y="1567.90" style="font-size:33.5px;letter-spacing:0.643px;">-140 to -21</text>
<text class="s" x="1643.62" y="1567.90" style="font-size:36px;">μ</text>
<text class="r" x="1664.54" y="1567.90" style="font-size:33.5px;">m</text>
<rect x="1521.40" y="1835.60" width="55.60" height="428.00" fill="#fff" stroke="#000" stroke-width="2.8" stroke-linejoin="round"/>
<rect x="1521.40" y="2112.60" width="55.60" height="24.80" fill="#d3d3d3" stroke="#000" stroke-width="2.8"/>
<rect x="1520.00" y="1834.20" width="58.40" height="279.80" fill="#000"/>
<rect x="1604.70" y="1835.60" width="55.70" height="428.00" fill="#fff" stroke="#000" stroke-width="2.8" stroke-linejoin="round"/>
<rect x="1604.70" y="1920.50" width="55.70" height="64.30" fill="#d3d3d3" stroke="#000" stroke-width="2.8"/>
<rect x="1603.30" y="1834.20" width="58.50" height="87.70" fill="#000"/>
<line x1="1484.80" y1="1833.30" x2="1484.80" y2="2264.90" stroke="#000" stroke-width="3.0"/>
<line x1="1484.80" y1="2263.50" x2="1499.80" y2="2263.50" stroke="#000" stroke-width="2.8"/>
<text class="r" x="1446.35" y="2275.40" style="font-size:37.0px;">0</text>
<line x1="1484.80" y1="2177.74" x2="1499.80" y2="2177.74" stroke="#000" stroke-width="2.8"/>
<text class="r" x="1425.82" y="2189.64" style="font-size:37.0px;">20</text>
<line x1="1484.80" y1="2091.98" x2="1499.80" y2="2091.98" stroke="#000" stroke-width="2.8"/>
<text class="r" x="1425.82" y="2103.88" style="font-size:37.0px;">40</text>
<line x1="1484.80" y1="2006.22" x2="1499.80" y2="2006.22" stroke="#000" stroke-width="2.8"/>
<text class="r" x="1425.82" y="2018.12" style="font-size:37.0px;">60</text>
<line x1="1484.80" y1="1920.46" x2="1499.80" y2="1920.46" stroke="#000" stroke-width="2.8"/>
<text class="r" x="1425.82" y="1932.36" style="font-size:37.0px;">80</text>
<line x1="1484.80" y1="1834.70" x2="1499.80" y2="1834.70" stroke="#000" stroke-width="2.8"/>
<text class="r" x="1405.19" y="1846.60" style="font-size:37.0px;">100</text>
<text class="r" x="1530.58" y="1998.10" style="font-size:32px;fill:#fff;">65</text>
<text class="r" x="1614.24" y="1886.50" style="font-size:32px;fill:#fff;">20</text>
<text class="r" x="1614.68" y="1965.10" style="font-size:32px;">15</text>
<text class="r" x="1537.30" y="2137.30" style="font-size:32px;">6</text>
<text class="r" x="1531.16" y="2209.10" style="font-size:32px;">29</text>
<text class="r" x="1614.28" y="2132.10" style="font-size:32px;">65</text>
<text class="r" x="1534.75" y="2307.00" style="font-size:38px;">P</text>
<text class="r" x="1621.11" y="2307.00" style="font-size:38px;">L</text>
<text class="r" transform="translate(1404.80,2123.33) rotate(-90)" style="font-size:38px;letter-spacing:-0.272px;">% Eyes</text>
<rect x="1379.00" y="2346.80" width="56.90" height="14.70" fill="#000" stroke="#000" stroke-width="3" stroke-linejoin="round"/>
<rect x="1379.00" y="2387.90" width="56.90" height="14.00" fill="#d3d3d3" stroke="#000" stroke-width="3" stroke-linejoin="round"/>
<rect x="1379.00" y="2431.40" width="56.90" height="14.00" fill="#fff" stroke="#000" stroke-width="3" stroke-linejoin="round"/>
<text class="r" x="1467.23" y="2366.90" style="font-size:33.5px;letter-spacing:1.251px;">+0.06 to +2.72 mm</text>
<text class="r" x="1767.27" y="2353.90" style="font-size:22px;">3</text>
<text class="r" x="1467.39" y="2407.80" style="font-size:33.5px;letter-spacing:1.169px;">-0.05 to +0.05 mm</text>
<text class="r" x="1757.67" y="2394.80" style="font-size:22px;">3</text>
<text class="r" x="1467.39" y="2451.50" style="font-size:33.5px;letter-spacing:0.993px;">-2.72 to -0.06 mm</text>
<text class="r" x="1746.47" y="2438.50" style="font-size:22px;">3</text>
</svg>
</body></html>
